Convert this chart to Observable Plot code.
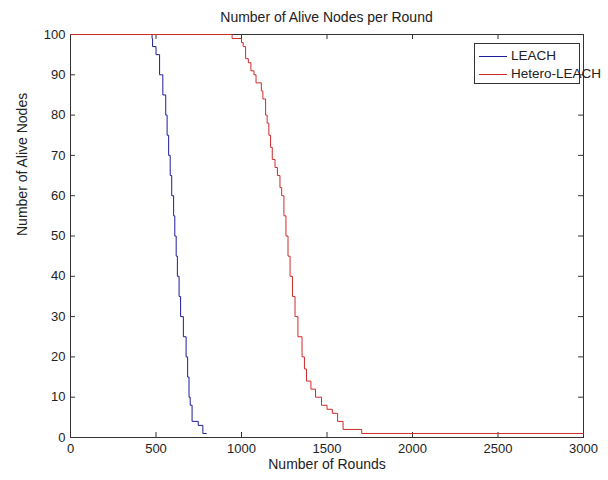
<!DOCTYPE html>
<html><head><meta charset="utf-8">
<script src="https://cdn.jsdelivr.net/npm/d3@7"></script>
<script src="https://cdn.jsdelivr.net/npm/@observablehq/plot@0.6"></script>
<style>
body{margin:0;background:#fff;font-family:"Liberation Sans",Arial,sans-serif;color:#222;}
#wrap{position:relative;width:608px;height:480px;overflow:hidden;}
#title{height:24px;box-sizing:border-box;padding-top:10px;line-height:14px;font-size:14px;text-align:center;width:513px;margin-left:70px;white-space:nowrap;}
#legend{position:absolute;left:474px;top:43px;width:106px;height:41px;box-sizing:border-box;border:1px solid #333;background:#fff;font-size:13.5px;}
.item{position:absolute;left:4px;height:16px;line-height:16px;white-space:nowrap;}
.item span.sw{display:inline-block;width:28px;height:0;border-top:1px solid;vertical-align:middle;margin-right:4px;}
</style></head>
<body><div id="wrap"><div id="title"></div><div id="chart"></div><div id="legend"></div></div>
<script>
const titleText = "Number of Alive Nodes per Round";
const xLabel = "Number of Rounds";
const yLabel = "Number of Alive Nodes";
const seriesNames = ["LEACH", "Hetero-LEACH"];
const seriesColors = ["#1c1c9c", "#d02a2a"];
const xTicks = [0, 500, 1000, 1500, 2000, 2500, 3000];
const yTicks = [0, 10, 20, 30, 40, 50, 60, 70, 80, 90, 100];

const leachRounds = [0,477,480,500,521,540,557,565,574,583,592,603,610,618,625,635,644,660,676,685,693,700,711,747,774,795];
const leachAlive  = [100,99,97,95,90,85,80,75,70,65,60,55,50,45,40,35,30,25,20,15,10,8,4,3,1,1];

const heteroRounds = [0,945,1000,1010,1024,1040,1055,1073,1085,1116,1125,1141,1150,1160,1170,1180,1196,1210,1225,1235,1248,1260,1272,1284,1298,1313,1330,1354,1368,1380,1406,1433,1468,1500,1531,1562,1594,1703,3000];
const heteroAlive  = [100,99,98,97,94,93,91,90,88,86,84,80,78,75,72,69,67,65,62,60,55,50,45,40,35,30,25,20,17,14,12,10,8,7,6,4,2,1,1];

const leach = leachRounds.map((r, i) => ({round: r, alive: leachAlive[i]}));
const hetero = heteroRounds.map((r, i) => ({round: r, alive: heteroAlive[i]}));

document.getElementById("title").textContent = titleText;

const chart = Plot.plot({
  width: 608, height: 456,
  marginTop: 10, marginLeft: 70, marginRight: 25, marginBottom: 43,
  x: {domain: [0, 3000]},
  y: {domain: [0, 100]},
  style: {fontFamily: "Liberation Sans, Arial, sans-serif", fontSize: "13px", color: "#222", background: "#fff"},
  marks: [
    Plot.axisX({ticks: xTicks, tickSize: 0, tickPadding: 6, label: null, tickFormat: d => String(d)}),
    Plot.axisY({ticks: yTicks, tickSize: 0, tickPadding: 5, label: null, tickFormat: d => String(d)}),
    Plot.ruleX(xTicks, {x: d => d, y1: 0, y2: 1.25, stroke: "#333"}),
    Plot.ruleX(xTicks, {x: d => d, y1: 98.75, y2: 100, stroke: "#333"}),
    Plot.ruleY(yTicks, {y: d => d, x1: 0, x2: 29, stroke: "#333"}),
    Plot.ruleY(yTicks, {y: d => d, x1: 2971, x2: 3000, stroke: "#333"}),
    Plot.frame({stroke: "#333"}),
    Plot.line(leach, {x: "round", y: "alive", curve: "step-after", stroke: seriesColors[0], strokeWidth: 1}),
    Plot.line(hetero, {x: "round", y: "alive", curve: "step-after", stroke: seriesColors[1], strokeWidth: 1}),
    Plot.text([xLabel], {frameAnchor: "bottom", dy: 31, fontSize: 14, fill: "#222"}),
    Plot.text([yLabel], {frameAnchor: "left", dx: -48, rotate: -90, fontSize: 14, fill: "#222"})
  ]
});
document.getElementById("chart").appendChild(chart);

const legend = document.getElementById("legend");
seriesNames.forEach((name, i) => {
  const div = document.createElement("div");
  div.className = "item";
  div.style.top = (4 + i * 18) + "px";
  const sw = document.createElement("span");
  sw.className = "sw";
  sw.style.borderTopColor = seriesColors[i];
  div.appendChild(sw);
  div.appendChild(document.createTextNode(name));
  legend.appendChild(div);
});
</script></body></html>
